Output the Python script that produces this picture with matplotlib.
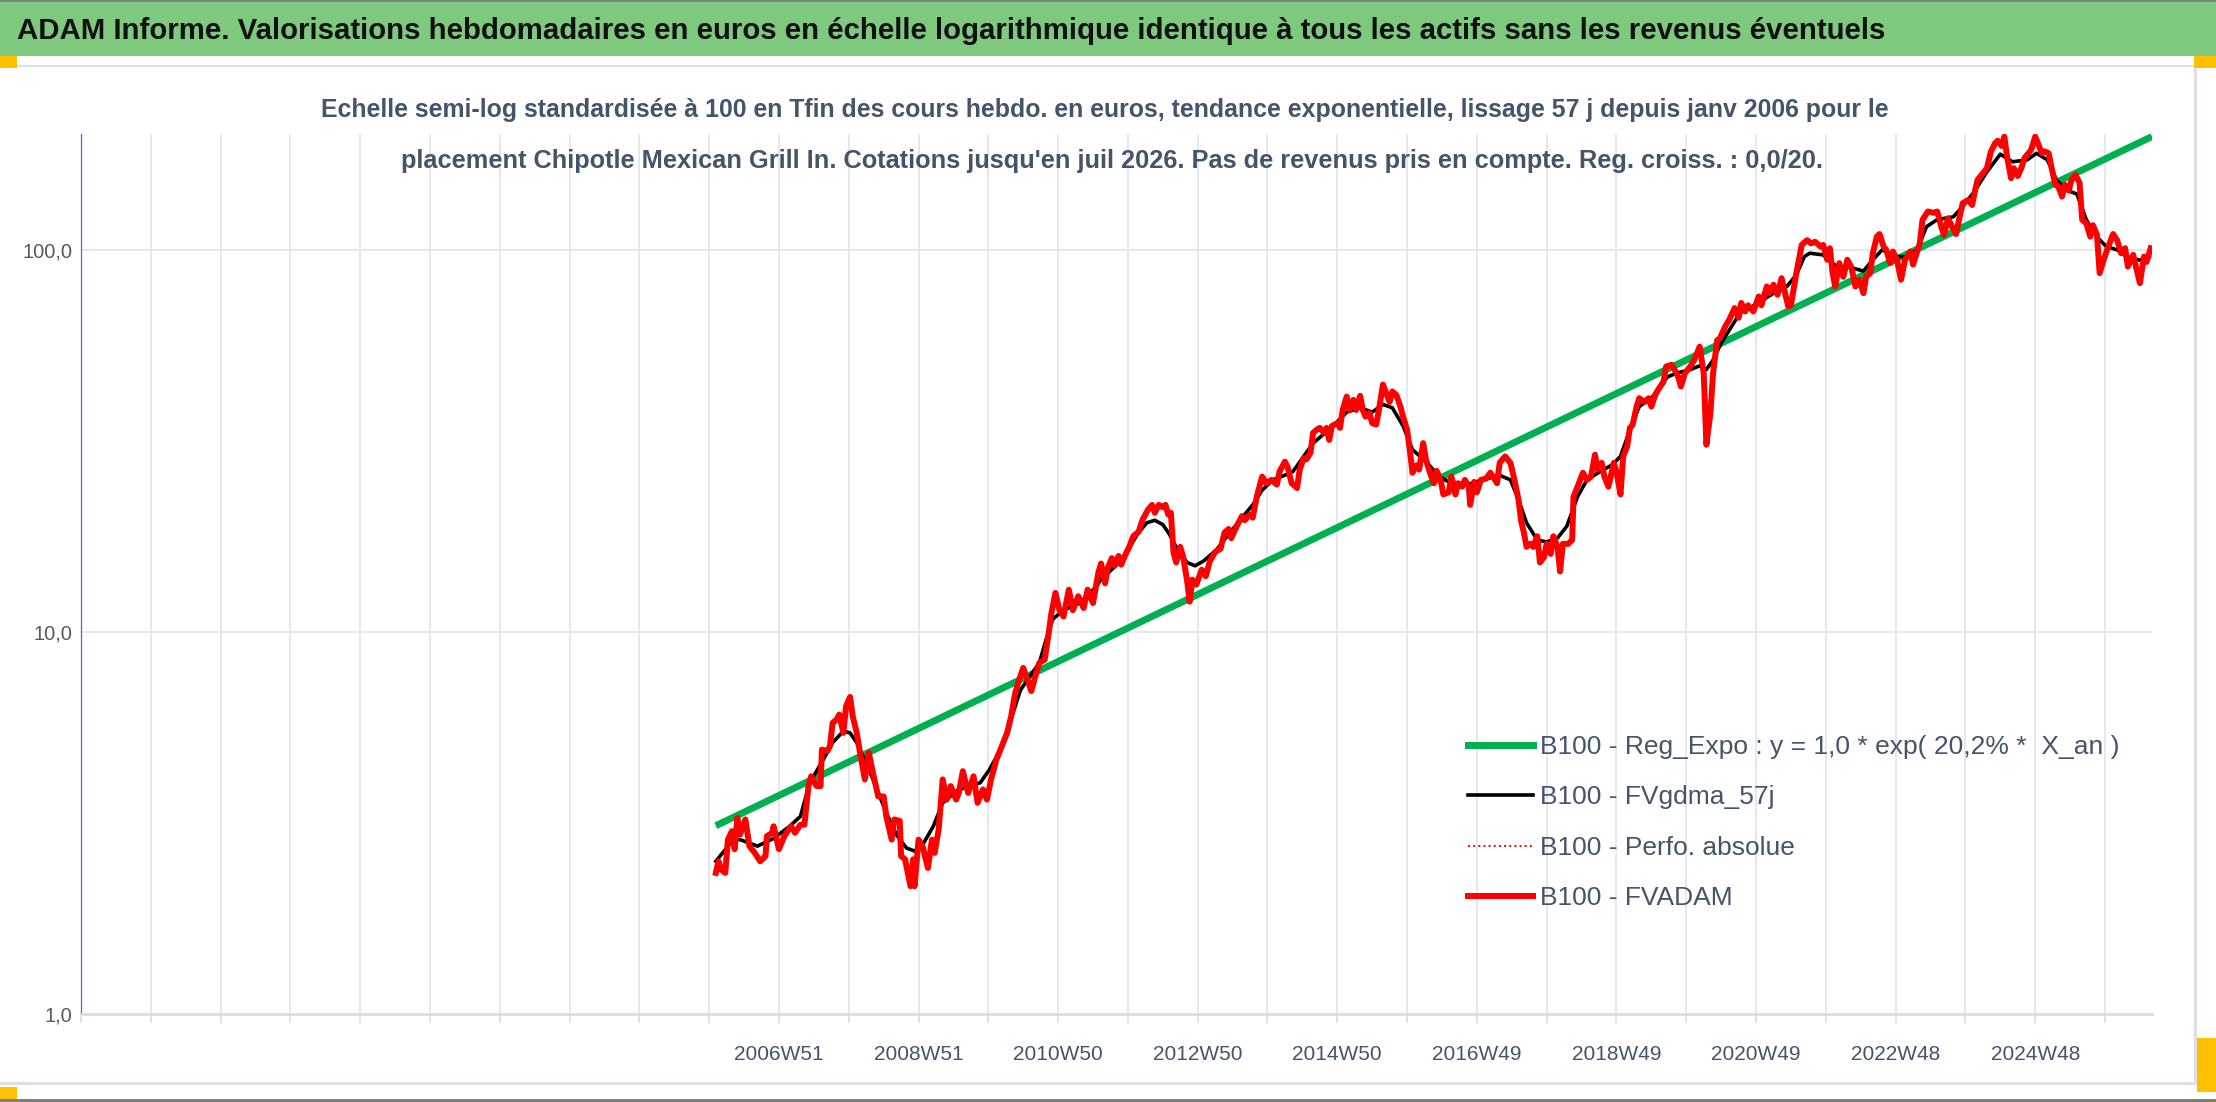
import numpy as np
import matplotlib
matplotlib.use("Agg")
from matplotlib import pyplot as plt
from matplotlib.patches import Rectangle
from matplotlib.lines import Line2D

# week index counted from the left edge of the category axis (52 per gridline)
RED_WEEK = [473, 475, 477, 480, 482, 485, 487, 489, 491, 495, 498, 502, 506, 510, 511,
            515, 516, 520, 524, 529, 532, 536, 539, 542, 544, 548, 551, 552, 556, 558,
            560, 563, 565, 568, 570, 573, 575, 578, 580, 584, 587, 590, 594, 598, 600,
            604, 606, 610, 611, 614, 618, 620, 621, 624, 627, 631, 634, 636, 639, 642,
            645, 648, 652, 654, 657, 661, 665, 668, 672, 675, 678, 682, 686, 690, 693,
            696, 699, 702, 706, 708, 711, 714, 718, 721, 723, 726, 729, 732, 736, 739,
            743, 747, 750, 754, 758, 760, 763, 765, 768, 770, 773, 775, 778, 781, 784,
            788, 791, 795, 798, 800, 803, 806, 808, 810, 812, 814, 816, 819, 821, 824,
            826, 828, 831, 835, 838, 841, 845, 849, 852, 855, 857, 861, 865, 867, 871,
            873, 876, 880, 883, 887, 891, 893, 897, 899, 902, 906, 908, 911, 913, 916,
            918, 921, 923, 926, 928, 930, 932, 936, 938, 940, 943, 945, 948, 950, 953,
            955, 957, 960, 962, 965, 967, 970, 972, 975, 977, 980, 983, 985, 988, 990,
            992, 995, 997, 1000, 1002, 1005, 1008, 1010, 1013, 1015, 1019, 1021, 1024, 1026, 1029,
            1031, 1034, 1035, 1038, 1040, 1043, 1047, 1050, 1052, 1055, 1057, 1061, 1065, 1068, 1071,
            1073, 1075, 1077, 1080, 1082, 1085, 1087, 1090, 1092, 1095, 1097, 1100, 1102, 1104, 1108,
            1111, 1112, 1115, 1119, 1122, 1125, 1128, 1130, 1133, 1135, 1138, 1142, 1144, 1147, 1149,
            1152, 1154, 1156, 1159, 1161, 1165, 1168, 1170, 1173, 1175, 1179, 1181, 1185, 1188, 1190,
            1192, 1195, 1199, 1202, 1206, 1209, 1211, 1214, 1216, 1219, 1221, 1225, 1228, 1232, 1235,
            1237, 1240, 1242, 1246, 1250, 1252, 1256, 1258, 1261, 1264, 1267, 1269, 1272, 1274, 1278,
            1282, 1286, 1289, 1292, 1296, 1298, 1301, 1303, 1305, 1307, 1310, 1313, 1316, 1319, 1322,
            1325, 1328, 1330, 1333, 1335, 1338, 1340, 1343, 1345, 1348, 1350, 1353, 1356, 1359, 1363,
            1365, 1368, 1370, 1372, 1376, 1380, 1383, 1386, 1388, 1391, 1394, 1397, 1400, 1402, 1406,
            1409, 1411, 1413, 1416, 1420, 1423, 1426, 1428, 1431, 1433, 1435, 1438, 1440, 1443, 1446,
            1448, 1451, 1453, 1456, 1458, 1461, 1463, 1466, 1468, 1471, 1473, 1476, 1478, 1481, 1483,
            1486, 1489, 1491, 1494, 1497, 1499, 1502, 1504, 1507, 1510, 1514, 1517, 1520, 1523, 1525,
            1529, 1531, 1534, 1537, 1539, 1542]
RED_VAL = [2.34, 2.51, 2.39, 2.34, 2.86, 3.01, 2.70, 3.26, 2.95, 3.23, 2.75, 2.64, 2.51, 2.59, 2.92,
           2.98, 3.10, 2.70, 2.92, 3.10, 2.98, 3.13, 3.13, 3.95, 4.19, 3.95, 3.95, 4.92, 4.88, 5.02,
           5.78, 5.90, 6.08, 5.44, 6.39, 6.76, 6.01, 5.44, 4.92, 4.11, 4.83, 4.28, 3.71, 3.71, 3.29,
           2.86, 3.23, 3.20, 2.59, 2.54, 2.16, 2.54, 2.16, 2.86, 2.75, 2.41, 2.86, 2.64, 3.04, 4.11,
           3.64, 3.95, 3.64, 3.79, 4.32, 3.79, 4.19, 3.57, 3.87, 3.64, 4.11, 4.63, 5.02, 5.44, 6.01,
           6.92, 7.50, 8.05, 7.36, 7.00, 7.65, 8.30, 8.46, 9.94, 11.2, 12.65, 11.4, 10.98, 12.9, 11.4,
           12.4, 11.55, 12.9, 11.9, 14.3, 15.1, 13.4, 14.7, 15.6, 14.9, 15.8, 15.0, 15.9, 16.7, 17.8,
           18.3, 19.7, 20.9, 21.5, 20.5, 21.5, 21.2, 21.5, 20.3, 20.5, 16.1, 15.2, 16.7, 15.8, 13.7,
           12.0, 13.7, 13.3, 14.55, 14.0, 15.3, 16.2, 16.5, 18.2, 18.6, 17.6, 18.9, 20.1, 19.6, 20.3,
           19.9, 22.6, 25.5, 24.5, 25.0, 24.3, 26.3, 27.9, 27.0, 24.5, 23.8, 26.6, 28.5, 28.3, 29.4,
           33.2, 33.9, 34.2, 33.2, 34.2, 31.8, 34.6, 35.2, 34.2, 38.1, 41.3, 38.1, 40.5, 38.1, 41.5,
           38.1, 36.6, 37.4, 35.2, 34.9, 38.1, 44.4, 42.6, 40.0, 42.6, 41.7, 38.9, 36.6, 33.8, 30.0,
           26.1, 27.3, 26.6, 31.2, 28.3, 26.1, 24.5, 26.4, 25.0, 22.9, 23.2, 25.5, 22.9, 24.5, 24.0,
           25.0, 24.0, 21.5, 24.7, 23.2, 25.0, 25.2, 26.1, 25.5, 24.5, 27.7, 28.8, 27.7, 25.0, 22.2,
           19.5, 18.2, 16.7, 17.0, 16.7, 17.8, 15.2, 15.7, 17.0, 16.0, 17.8, 16.7, 14.4, 17.0, 17.0,
           17.4, 22.6, 24.0, 26.1, 25.0, 25.5, 29.1, 26.6, 27.7, 25.5, 24.0, 27.7, 26.3, 22.9, 28.8,
           30.6, 34.2, 34.8, 38.9, 40.9, 40.0, 40.9, 38.9, 41.8, 43.0, 45.2, 49.5, 50.0, 48.1, 46.5,
           43.9, 47.6, 49.5, 51.5, 55.8, 47.6, 30.9, 37.4, 47.6, 58.0, 58.6, 63.0, 65.6, 70.4, 66.4,
           72.6, 69.0, 71.6, 69.0, 75.5, 71.6, 80.2, 77.0, 81.0, 76.3, 84.3, 78.6, 71.1, 71.6, 86.9,
           103.0, 106.0, 104.0, 105.0, 102.0, 103.0, 94.2, 101.0, 86.9, 80.2, 92.3, 85.0, 94.2, 90.0, 80.2,
           83.5, 77.0, 85.0, 86.9, 98.0, 108.3, 110.0, 102.0, 100.0, 92.3, 99.0, 94.2, 83.5, 94.2, 99.0,
           91.5, 99.0, 104.1, 119.8, 126.0, 125.0, 126.0, 115.0, 109.4, 121.0, 115.0, 110.0, 123.5, 132.5, 135.0,
           131.0, 142.0, 152.4, 157.0, 163.6, 180.8, 190.0, 193.0, 187.0, 197.9, 175.4, 154.0, 163.6, 156.0, 165.0,
           174.0, 179.0, 183.0, 197.9, 190.0, 179.0, 181.0, 179.0, 165.0, 148.0, 147.0, 137.9, 148.0, 143.0, 152.4,
           157.0, 150.0, 119.8, 117.4, 108.3, 116.0, 109.4, 86.9, 94.2, 101.0, 110.0, 106.0, 98.0, 101.0, 90.4,
           97.0, 90.4, 81.8, 96.0, 93.0, 101.0]

BLACK_WEEK = [473, 486, 491, 504, 516, 528, 536, 543, 553, 560, 568, 573, 578, 586, 593,
              600, 608, 615, 621, 627, 635, 642, 653, 662, 670, 677, 685, 692, 700, 707,
              714, 719, 724, 732, 744, 757, 759, 776, 787, 794, 800, 806, 811, 817, 824,
              830, 836, 846, 856, 866, 873, 880, 888, 898, 903, 918, 933, 943, 953, 962,
              970, 977, 985, 992, 1003, 1012, 1018, 1033, 1044, 1057, 1065, 1071, 1077, 1085, 1092,
              1100, 1107, 1115, 1122, 1132, 1141, 1147, 1154, 1161, 1171, 1182, 1189, 1199, 1206, 1211,
              1216, 1222, 1236, 1248, 1261, 1271, 1278, 1284, 1288, 1298, 1308, 1318, 1328, 1335, 1342,
              1353, 1360, 1368, 1375, 1383, 1395, 1402, 1410, 1420, 1430, 1439, 1450, 1457, 1465, 1472,
              1480, 1487, 1494, 1502, 1509, 1517, 1524, 1534, 1541]
BLACK_VAL = [2.51, 2.86, 2.86, 2.75, 2.88, 3.10, 3.29, 4.03, 4.63, 5.13, 5.50, 5.44, 5.13, 4.46, 3.87,
             3.36, 2.93, 2.72, 2.67, 2.77, 3.10, 3.57, 3.85, 3.95, 4.03, 4.37, 4.92, 5.78, 7.05, 7.65,
             8.30, 9.54, 10.8, 11.4, 11.9, 13.2, 13.6, 15.5, 18.0, 19.3, 19.6, 19.1, 18.0, 16.4, 15.2,
             14.9, 15.3, 16.4, 18.2, 20.1, 21.5, 23.5, 25.0, 25.8, 26.3, 31.2, 34.6, 37.6, 38.6, 37.6,
             39.4, 38.6, 34.6, 30.0, 27.7, 25.5, 24.8, 24.3, 25.0, 25.7, 25.0, 22.2, 19.3, 17.4, 17.2,
             17.6, 18.9, 22.6, 25.0, 26.3, 27.4, 28.8, 33.8, 38.9, 41.3, 46.5, 47.6, 48.6, 49.7, 48.6,
             51.5, 57.0, 68.3, 72.0, 77.0, 80.2, 86.0, 96.0, 98.0, 97.0, 90.4, 90.0, 88.0, 94.2, 100.0,
             96.0, 96.0, 100.0, 115.0, 120.0, 122.0, 130.0, 141.0, 160.0, 178.0, 170.0, 172.0, 179.0, 172.0, 152.0,
             143.0, 140.0, 120.0, 108.0, 102.0, 100.0, 96.0, 94.0, 96.0]

TREND_WEEK = [473, 1543]
TREND_VAL = [3.11, 198.0]

TICK_LABELS = ['2006W51', '2008W51', '2010W50', '2012W50', '2014W50',
               '2016W49', '2018W49', '2020W49', '2022W48', '2024W48']
SERIES_NAMES = ['B100 - Reg_Expo : y = 1,0 * exp( 20,2% *  X_an )',
                'B100 - FVgdma_57j', 'B100 - Perfo. absolue', 'B100 - FVADAM']

TITLE = ("ADAM Informe. Valorisations hebdomadaires en euros en échelle logarithmique "
         "identique à tous les actifs sans les revenus éventuels")
SUB1 = ("Echelle semi-log standardisée à 100 en Tfin des cours hebdo. en euros, tendance "
        "exponentielle, lissage 57 j depuis janv 2006 pour le")
SUB2 = ("placement Chipotle Mexican Grill In. Cotations jusqu'en juil 2026. Pas de revenus "
        "pris en compte. Reg. croiss. : 0,0/20.")

W, H = 2216, 1102
plt.rcParams['font.family'] = ['Liberation Sans', 'DejaVu Sans']

fig = plt.figure(figsize=(W / 100, H / 100), dpi=100)
fig.patch.set_facecolor('white')


def fx(px):
    return px / W


def fy(py):
    return 1 - py / H


def box(x0, y0, x1, y1, color):
    fig.patches.append(Rectangle((fx(x0), fy(y1)), fx(x1) - fx(x0), (y1 - y0) / H,
                                 transform=fig.transFigure, color=color, lw=0, zorder=0))


# frame decoration (Excel sheet look)
box(0, 0, W, 2, '#7f7f7f')
box(0, 2, W, 56, '#7fc97f')
box(0, 65, 2196, 67, '#dcdfe3')
box(0, 1082, 2196, 1085, '#dcdfe3')
box(2194, 67, 2197, 1085, '#dcdfe3')
box(0, 1099, W, H, '#7f7f7f')
box(0, 56, 17, 68, '#ffc000')
box(2194, 56, W, 68, '#ffc000')
box(0, 1087, 17, 1099, '#ffc000')
box(2197, 1038, W, 1092, '#ffc000')

renderer = fig.canvas.get_renderer()


def fit_width(txt, target):
    w = txt.get_window_extent(renderer=renderer).width
    txt.set_fontsize(txt.get_fontsize() * target / w)


t = fig.text(fx(17), fy(39), TITLE, ha='left', va='baseline', fontsize=20,
             fontweight='bold', color='#111111')
fit_width(t, 1863)
s1 = fig.text(fx(1105), fy(117), SUB1, ha='center', va='baseline', fontsize=16,
              fontweight='bold', color='#44546a')
fit_width(s1, 1567)
s2 = fig.text(fx(1112), fy(168), SUB2, ha='center', va='baseline', fontsize=16,
              fontweight='bold', color='#44546a')
fit_width(s2, 1422)

ax = fig.add_axes([fx(81), fy(1014), (2152 - 81) / W, (1014 - 134) / H])
ax.set_yscale('log')
ax.set_ylim(1, 201)
ax.set_xlim(0, 1543)

ax.plot(TREND_WEEK, TREND_VAL, color='#00b050', lw=5, solid_capstyle='butt', zorder=3)
ax.plot(BLACK_WEEK, BLACK_VAL, color='black', lw=2.6, zorder=4)
ax.plot(RED_WEEK, RED_VAL, color='red', lw=1.2, ls=':', zorder=4)
ax.plot(RED_WEEK, RED_VAL, color='red', lw=4.3, solid_joinstyle='round', zorder=5)

# axes styling
grid_pos = np.arange(0, 1543, 52)
ax.set_xticks(grid_pos)
labels = [''] * len(grid_pos)
for k, lab in enumerate(TICK_LABELS):
    labels[10 + 2 * k] = lab
ax.set_xticklabels(labels)
ax.tick_params(axis='x', length=6.5, width=1.3, color='#dcdfe3', pad=16,
               labelsize=15, labelcolor='#44546a')
ax.set_yticks([1, 10, 100])
ax.set_yticklabels(['1,0', '10,0', '100,0'])
ax.yaxis.set_minor_locator(matplotlib.ticker.NullLocator())
ax.tick_params(axis='y', length=0, pad=6, labelsize=14.5, labelcolor='#595959')
for x in grid_pos[1:]:
    ax.axvline(x, color='#e3e6ea', lw=1.3, zorder=1)
for y in (10, 100):
    ax.axhline(y, color='#e3e6ea', lw=1.3, zorder=1)
for side in ('top', 'right'):
    ax.spines[side].set_visible(False)
ax.spines['left'].set_color('#4472c4')
ax.spines['left'].set_linewidth(0.9)
ax.spines['bottom'].set_color('#d9dce0')
ax.spines['bottom'].set_linewidth(2)

handles = [Line2D([], [], color='#00b050', lw=5),
           Line2D([], [], color='black', lw=2.6),
           Line2D([], [], color='red', lw=1.4, ls=':'),
           Line2D([], [], color='red', lw=4.3)]
leg = ax.legend(handles, SERIES_NAMES, loc='upper left',
                bbox_to_anchor=(fx(1468), fy(735)), bbox_transform=fig.transFigure,
                frameon=False, fontsize=19, handlelength=2.45, handletextpad=0.28,
                labelspacing=1.0, borderpad=0, borderaxespad=0)
for txt in leg.get_texts():
    txt.set_color('#44546a')

fig.savefig('out.png', dpi=100)
